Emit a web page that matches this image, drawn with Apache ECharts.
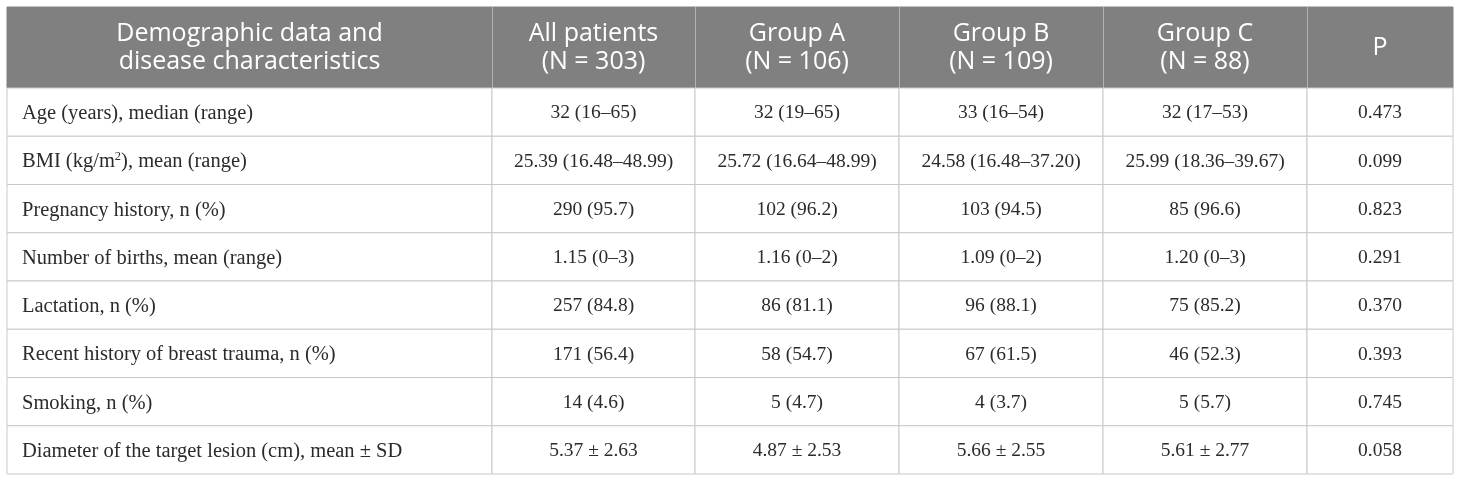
<!DOCTYPE html>
<html><head><meta charset="utf-8">
<script src="https://cdn.jsdelivr.net/npm/echarts@6/dist/echarts.min.js"></script>
<style>html,body{margin:0;padding:0;background:#fff}#c{width:1460px;height:482px}</style>
</head><body><div id="c"></div>
<script>
// ---- data ----
const headers = ['Demographic data and\ndisease characteristics','All patients\n(N = 303)','Group A\n(N = 106)','Group B\n(N = 109)','Group C\n(N = 88)','P'];
const rowLabels = ['Age (years), median (range)','BMI (kg/m{sup|2}), mean (range)','Pregnancy history, n (%)','Number of births, mean (range)','Lactation, n (%)','Recent history of breast trauma, n (%)','Smoking, n (%)','Diameter of the target lesion (cm), mean ± SD'];
const allPatients = ['32 (16–65)','25.39 (16.48–48.99)','290 (95.7)','1.15 (0–3)','257 (84.8)','171 (56.4)','14 (4.6)','5.37 ± 2.63'];
const groupA = ['32 (19–65)','25.72 (16.64–48.99)','102 (96.2)','1.16 (0–2)','86 (81.1)','58 (54.7)','5 (4.7)','4.87 ± 2.53'];
const groupB = ['33 (16–54)','24.58 (16.48–37.20)','103 (94.5)','1.09 (0–2)','96 (88.1)','67 (61.5)','4 (3.7)','5.66 ± 2.55'];
const groupC = ['32 (17–53)','25.99 (18.36–39.67)','85 (96.6)','1.20 (0–3)','75 (85.2)','46 (52.3)','5 (5.7)','5.61 ± 2.77'];
const pValues = ['0.473','0.099','0.823','0.291','0.370','0.393','0.745','0.058'];

// ---- layout (axis units) ----
const colWidths = [485, 203, 204, 204, 204, 146];
const headerH = 81, rowH = 48.25;
const colEdges = [0]; colWidths.forEach(w => colEdges.push(colEdges[colEdges.length-1] + w));
const totalW = colEdges[colEdges.length-1];
const totalH = headerH + rowH * rowLabels.length;
const rowTop = r => r === 0 ? 0 : headerH + (r-1)*rowH;
const rowBot = r => r === 0 ? headerH : headerH + r*rowH;

const bodyCols = [rowLabels, allPatients, groupA, groupB, groupC, pValues];
const cells = [];
for (let r = 0; r <= rowLabels.length; r++)
  for (let c = 0; c < headers.length; c++)
    cells.push([c, r]);

const serif = '"Liberation Serif", "DejaVu Serif", serif';
const sans = '"Open Sans", "Noto Sans", sans-serif';
const bodyFont = '19.5px ' + serif;
const labelFont = '20.5px ' + serif;

function renderItem(params, api) {
  const c = api.value(0), r = api.value(1);
  const p0 = api.coord([colEdges[c], rowTop(r)]);
  const p1 = api.coord([colEdges[c+1], rowBot(r)]);
  const x = p0[0], y = p0[1], w = p1[0]-p0[0], h = p1[1]-p0[1];
  const isHead = r === 0;
  const txt = isHead ? headers[c] : bodyCols[c][r-1];
  const left = !isHead && c === 0;
  const children = [{
    type: 'rect',
    shape: {x: x, y: y, width: w, height: h},
    style: {fill: isHead ? '#7f807f' : '#ffffff', stroke: isHead ? '#7f807f' : '#c9c9c9', lineWidth: 1}
  }];
  if (isHead && c > 0) {
    children.push({type:'line', shape:{x1:x+0.5,y1:y,x2:x+0.5,y2:y+h}, style:{stroke:'#b3b3b3', lineWidth:1}});
  }
  children.push({
    type: 'text',
    style: {
      x: left ? x + 15 : x + w/2,
      y: y + h/2 + (isHead ? 0 : 1),
      text: left ? '{a|' + txt.replace(/\{sup\|2\}/, '}{sup|2}{a|') + '}' : txt,
      align: left ? 'left' : 'center',
      verticalAlign: 'middle',
      fill: isHead ? '#ffffff' : '#2b2b2b',
      font: isHead ? '25px ' + sans : bodyFont,
      lineHeight: isHead ? 28 : 22,
      rich: left ? {
        a: {font: labelFont, fill: '#2b2b2b', lineHeight: 22, verticalAlign: 'bottom'},
        sup: {font: '12.5px ' + serif, fill: '#2b2b2b', lineHeight: 22, verticalAlign: 'top'}
      } : undefined
    }
  });
  return {type: 'group', children: children};
}

const chart = echarts.init(document.getElementById('c'), null, {renderer: 'canvas'});
chart.setOption({
  animation: false,
  grid: {left: 7, top: 7, right: 7, bottom: 8, containLabel: false},
  xAxis: {type: 'value', min: 0, max: totalW, show: false},
  yAxis: {type: 'value', min: 0, max: totalH, inverse: true, show: false},
  series: [{
    type: 'custom',
    renderItem: renderItem,
    data: cells,
    clip: false
  }]
});
</script></body></html>
